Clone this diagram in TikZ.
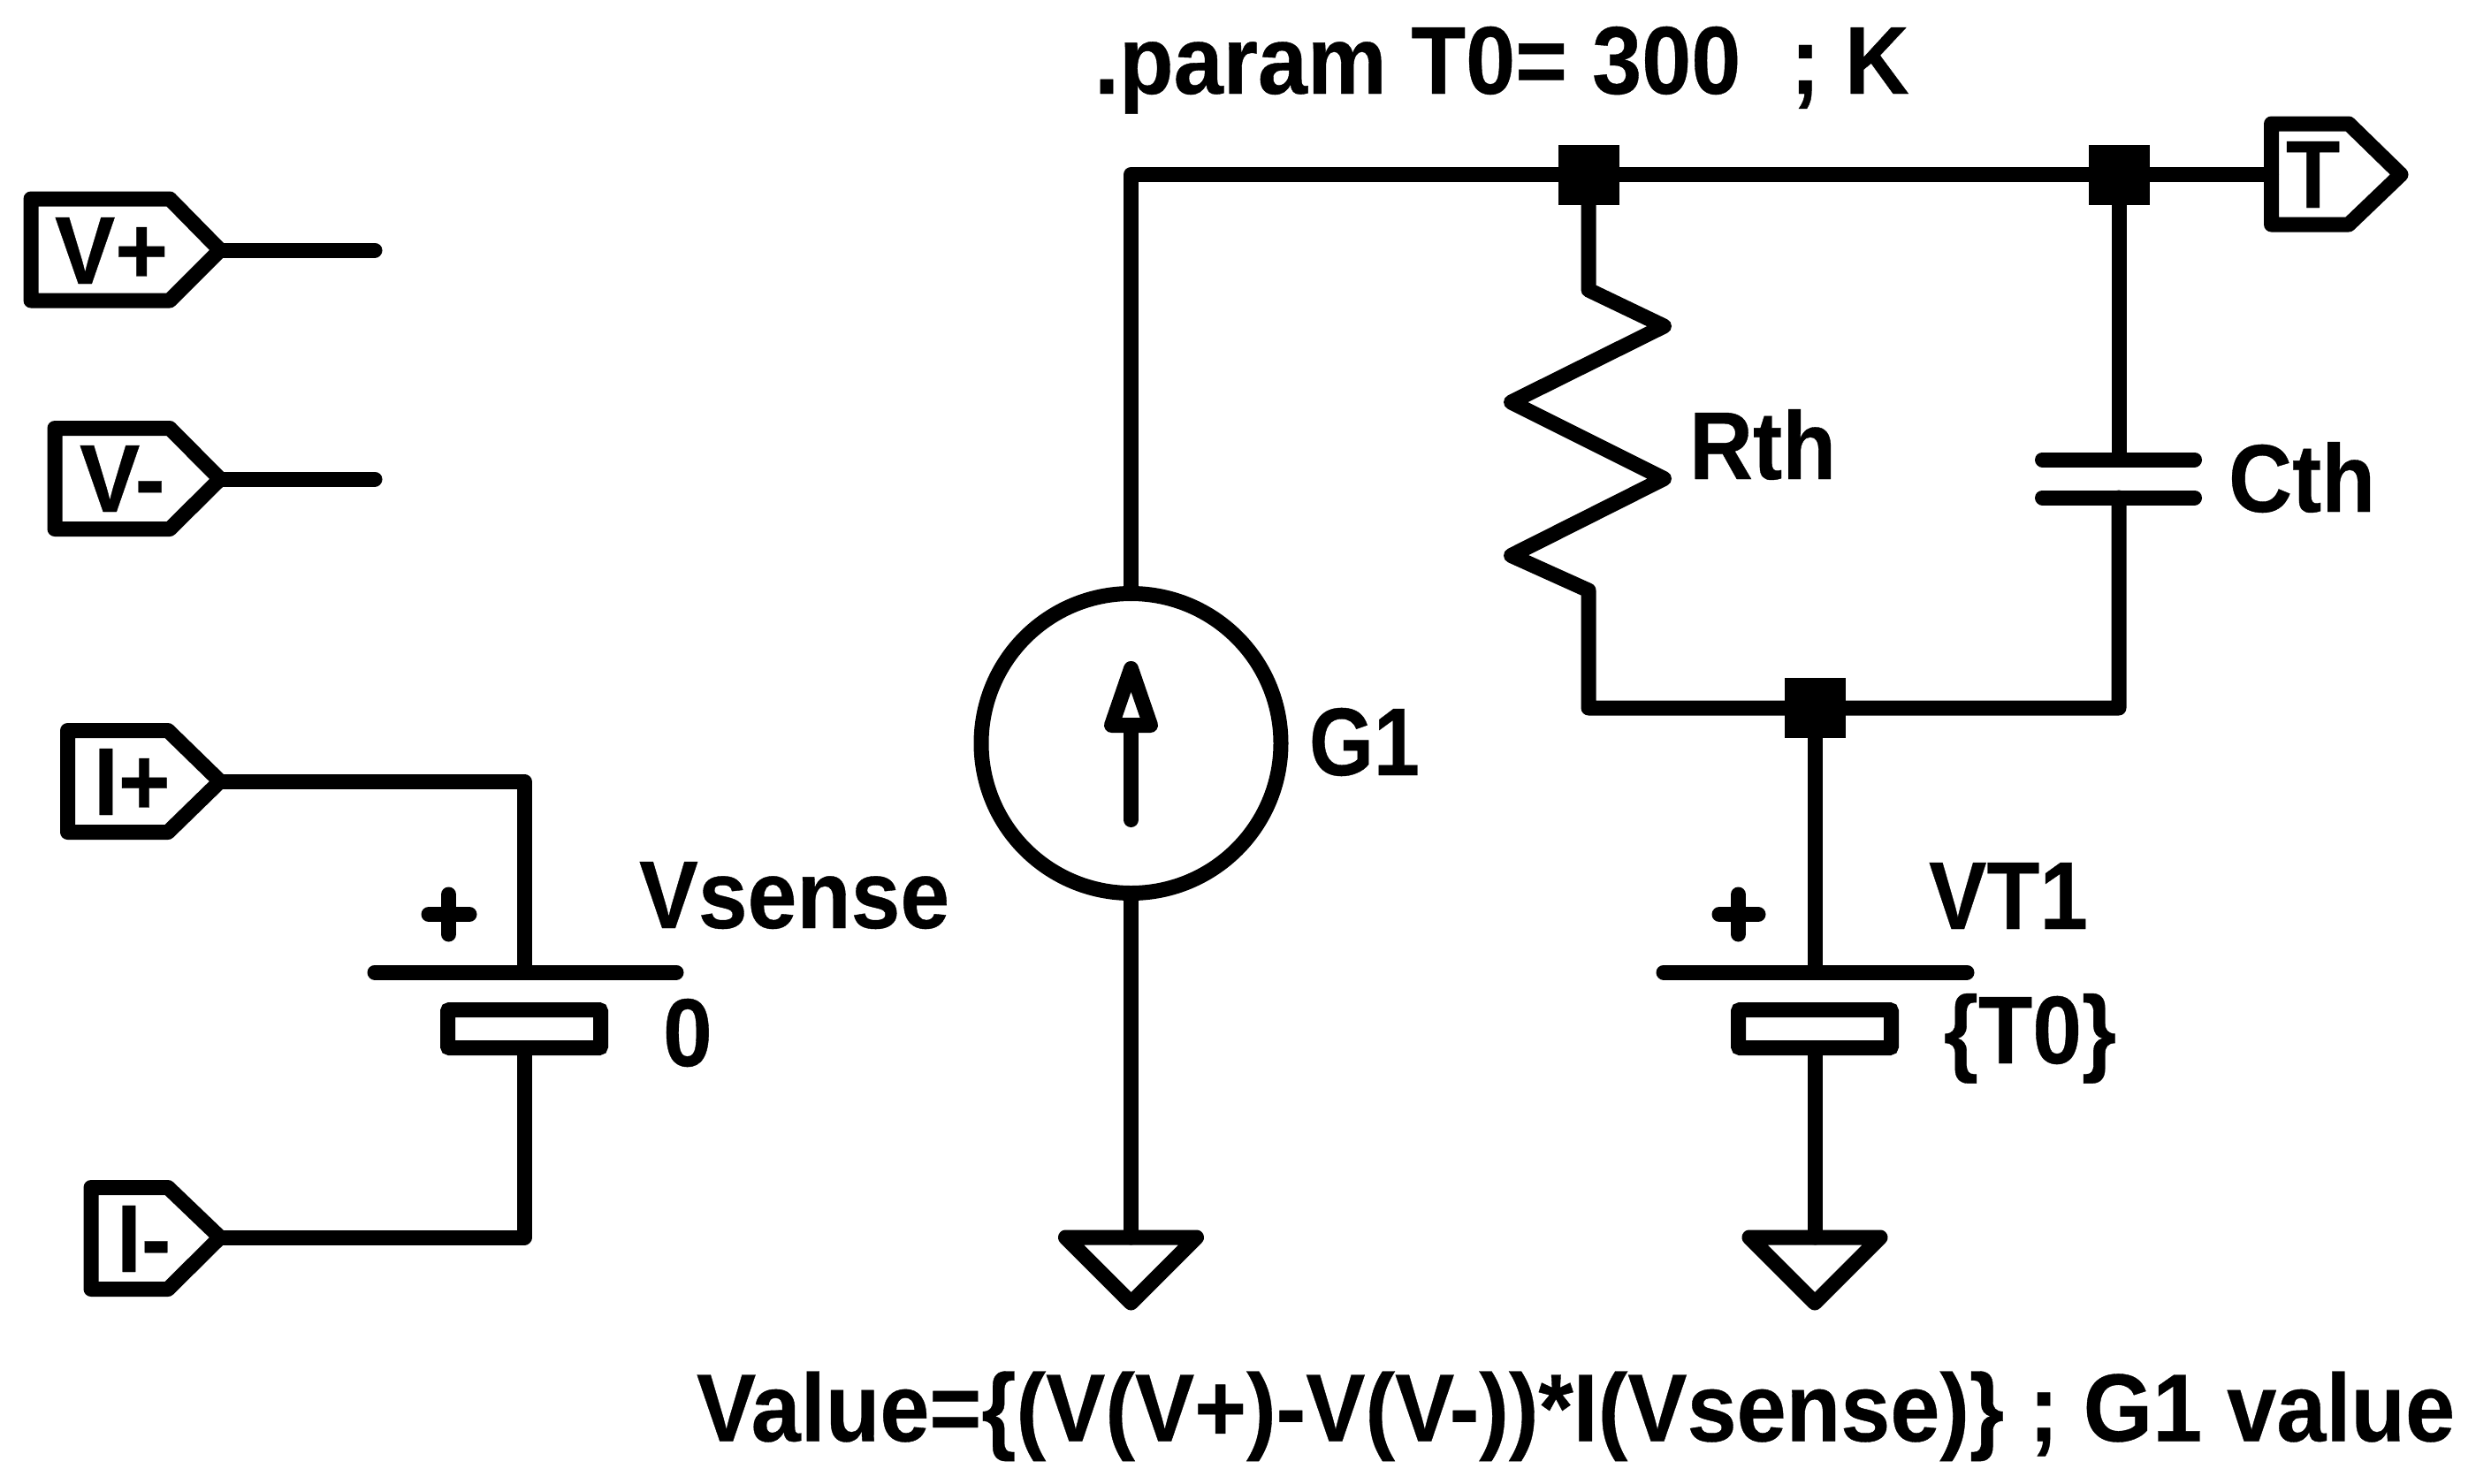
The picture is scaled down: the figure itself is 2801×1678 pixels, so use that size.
\documentclass[tikz,border=0pt]{standalone}
\usepackage{fontspec}
\setmainfont{Liberation Sans}[BoldFont={Liberation Sans Bold},BoldFeatures={FakeBold=0.35}]
\newcommand{\sqz}[2]{\scalebox{#1}[1]{#2}}
\tikzset{
  wire/.style={draw=black,line width=8.5pt,line cap=round,line join=round},
  joint/.style={rectangle,fill=black,draw=none,inner sep=0pt,minimum width=34.5pt,minimum height=34pt},
  label/.style={anchor=base west,inner sep=0pt,outer sep=0pt,font=\fontsize{54.5}{60}\selectfont\bfseries,text=black},
  batbody/.style={rectangle,draw=black,line width=8.5pt,inner sep=0pt,outer sep=0pt,minimum width=86.5pt,minimum height=21.5pt,rounded corners=1pt},
  source/.style={circle,draw=black,line width=8.5pt,inner sep=0pt,outer sep=0pt,minimum size=169.5pt}
}
\begin{document}
\begin{tikzpicture}[x=0.5pt,y=-0.5pt]
\useasboundingbox (0,0) rectangle (2801,1678);
% coordinates
\coordinate (vpTip) at (249,283); \coordinate (vpEnd) at (424,283);
\coordinate (vmTip) at (249,542); \coordinate (vmEnd) at (424,542);
\coordinate (ipTip) at (249,884); \coordinate (ipCorner) at (593,884);
\coordinate (imTip) at (249,1400); \coordinate (imCorner) at (593,1400);
\coordinate (vsPlate) at (593,1100);
\coordinate (vtPlate) at (2053,1100);
\coordinate (topCorner) at (1279.5,197.5);
\coordinate (tTip) at (2569.5,197.5);
\coordinate (gndA) at (1279.5,1400);
\coordinate (gndB) at (2053,1400);
\coordinate (botL) at (1797,801);
\coordinate (botR) at (2397,801);
\coordinate (capTop) at (2397,520);
\coordinate (capBot) at (2397,563);
% components as nodes
\node[joint] (j1) at (1797,197.5) {};
\node[joint] (j2) at (2397,197.5) {};
\node[joint] (j3) at (2053,801) {};
\node[source] (g1) at (1279.5,841) {};
\node[batbody] (vsBody) at (593,1164) {};
\node[batbody] (vtBody) at (2053,1164) {};
% tags
\draw[wire] (192,225) -- (35,225) -- (35,340) -- (192,340) -- (vpTip) -- cycle;
\draw[wire] (192,484.5) -- (62,484.5) -- (62,598.5) -- (192,598.5) -- (vmTip) -- cycle;
\draw[wire] (190,826.5) -- (76.5,826.5) -- (76.5,941.5) -- (190,941.5) -- (ipTip) -- cycle;
\draw[wire] (190,1343.5) -- (103,1343.5) -- (103,1458.5) -- (190,1458.5) -- (imTip) -- cycle;
\draw[wire] (2657,140) -- (2569.5,140) -- (2569.5,254) -- (2657,254) -- (2716,197.5) -- cycle;
% connectors
\draw[wire] (vpTip) -- (vpEnd);
\draw[wire] (vmTip) -- (vmEnd);
\draw[wire] (ipTip) -- (ipCorner) -- (vsPlate);
\draw[wire] (vsBody.south) -- (imCorner) -- (imTip);
\draw[wire] (g1.north) -- (topCorner) -- (j1.center) -- (j2.center) -- (tTip);
\draw[wire] (g1.south) -- (gndA);
\draw[wire] (j1.center) -- (1797,328) -- (1882.5,369) -- (1709.5,455) -- (1882.5,541.5) -- (1709.5,628.5) -- (1797,668) -- (botL) -- (j3.center) -- (botR) -- (capBot);
\draw[wire] (j2.center) -- (capTop);
\draw[wire] (j3.center) -- (vtPlate);
\draw[wire] (vtBody.south) -- (gndB);
% capacitor plates
\draw[wire] (2310.5,520) -- (2482.5,520);
\draw[wire] (2310.5,563) -- (2482.5,563);
% battery plates and plus signs
\draw[wire] (424,1100) -- (765,1100);
\draw[wire] (1882,1100) -- (2225,1100);
\draw[wire] (485,1034.5) -- (531,1034.5) (507.5,1012) -- (507.5,1057);
\draw[wire] (1945,1034.5) -- (1989,1034.5) (1966.5,1012) -- (1966.5,1057);
% grounds
\draw[wire] (1205.5,1400) -- (1353.5,1400) -- (1279.5,1474) -- cycle;
\draw[wire] (1979,1400) -- (2127,1400) -- (2053,1474) -- cycle;
% source arrow
\draw[wire] (1279.5,927.5) -- (1279.5,820.5);
\draw[wire] (1257.5,820.5) -- (1301.5,820.5) -- (1279.5,756.5) -- cycle;
% labels
\node[label] (tVp) at (62,321) {\sqz{0.94}{V+}};
\node[label] (tVm) at (90,579) {\sqz{0.94}{V-}};
\node[label] (tIp) at (106,922) {\sqz{0.92}{I+}};
\node[label] (tIm) at (132,1439) {\sqz{0.92}{I-}};
\node[label] (tT) at (2586,235) {\sqz{0.92}{T}};
\node[label] (tParam) at (1238,106) {\sqz{0.925}{.param T0= 300\ \ ; K}};
\node[label] (tRth) at (1911,542) {\sqz{0.915}{Rth}};
\node[label] (tCth) at (2521,579) {\sqz{0.915}{Cth}};
\node[label] (tG1) at (1481,877) {\sqz{0.86}{G1}};
\node[label] (tVsense) at (723,1050) {\sqz{0.92}{Vsense}};
\node[label] (tZero) at (750,1206) {\sqz{0.92}{0}};
\node[label] (tVT1) at (2182,1051) {\sqz{0.90}{VT1}};
\node[label] (tT0) at (2199,1203) {\sqz{0.92}{\{T0\}}};
\node[label] (tValue) at (788,1630.5) {\sqz{0.925}{Value=\{(V(V+)-V(V-))*I(Vsense)\} ; G1 value}};
\end{tikzpicture}
\end{document}
